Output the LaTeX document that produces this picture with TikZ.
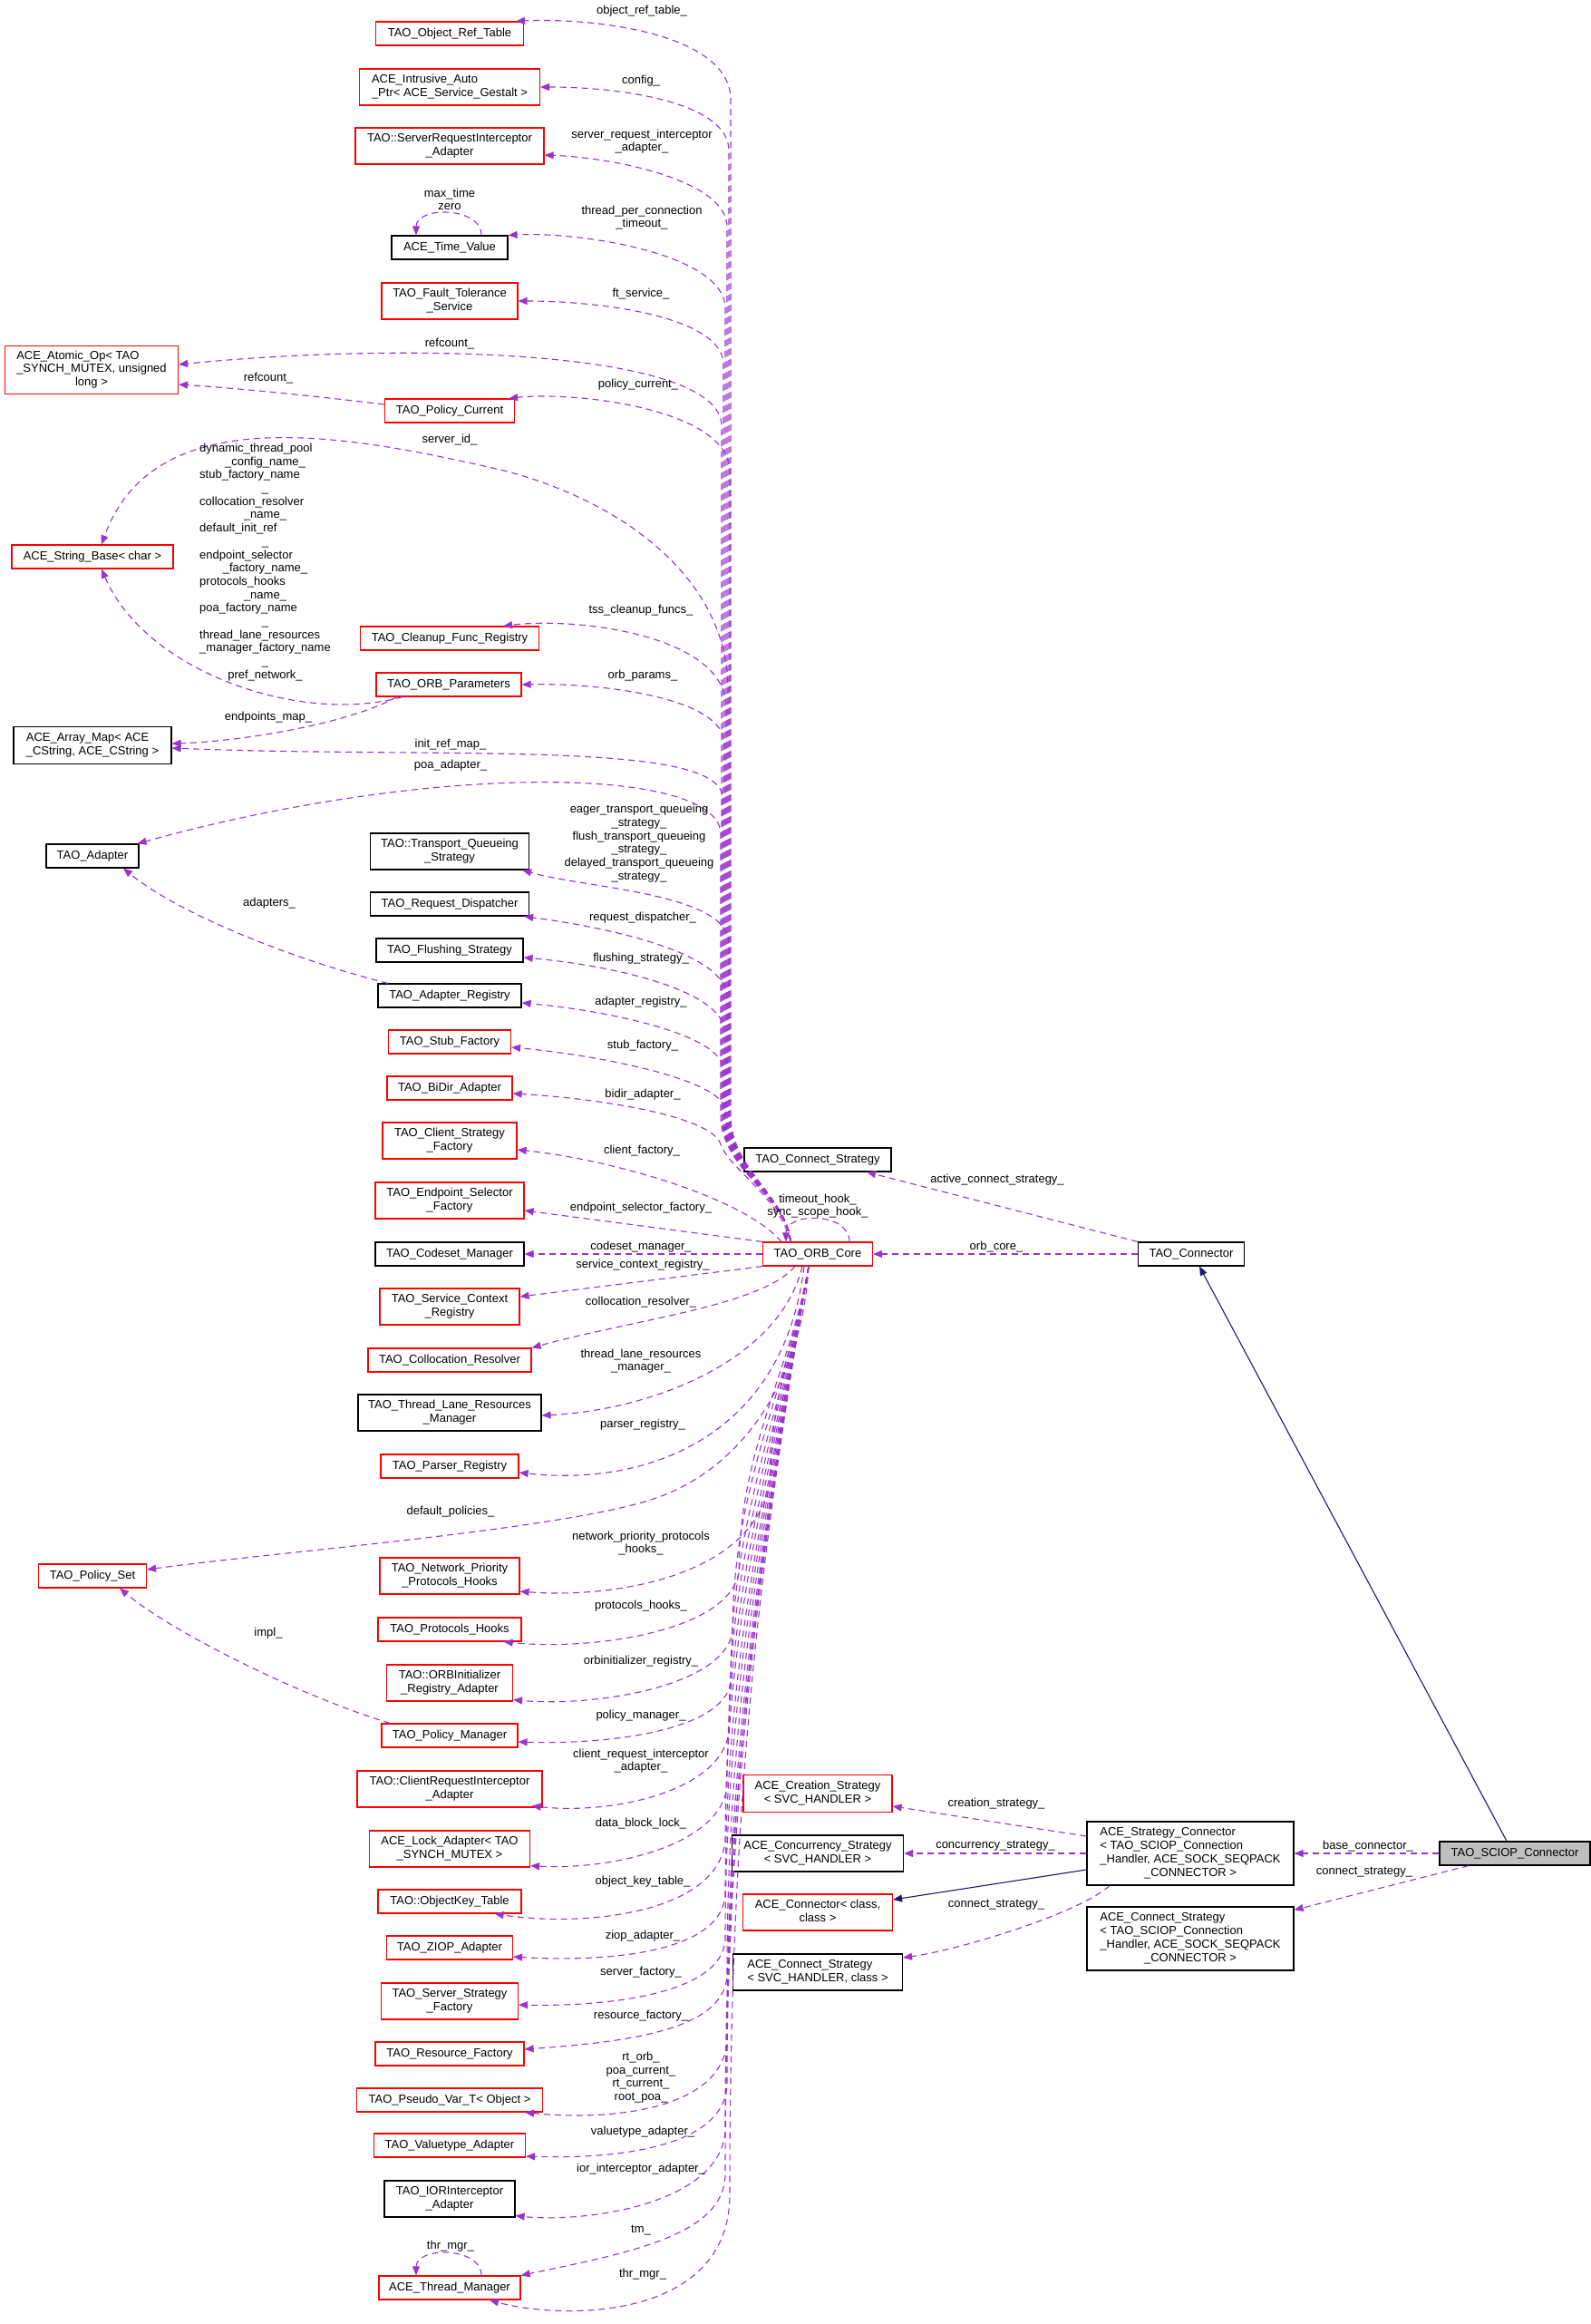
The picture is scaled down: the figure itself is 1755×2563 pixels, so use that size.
\documentclass[tikz,border=0pt]{standalone}
\usepackage{fontspec}
\setmainfont{Liberation Sans}
\usetikzlibrary{arrows.meta}
\definecolor{edgep}{HTML}{9A32CD}
\definecolor{navyc}{HTML}{191970}
\definecolor{grayfill}{HTML}{BFBFBF}
\newcommand\twol[2]{\begin{tabular}{@{}l@{}}#1\\\multicolumn{1}{@{}c@{}}{#2}\end{tabular}}
\newcommand\mcc[1]{\multicolumn{1}{@{}c@{}}{#1}}
\newcommand\nd[6]{\node[#1, minimum width=#4pt, minimum height=#5pt] (#2) at (#3) {#6};}
\newcommand\UpEdge[6]{\draw[dep] (coreT) .. controls (868,1320) and (#1,1290) .. (#1,1230) -- (#1,#2) .. controls (#1,#3) and +(#4,#5) .. (#6);}
\newcommand\LowEdge[7]{%
 \pgfmathsetmacro\leL{#2-1396}%
 \pgfmathsetmacro\leAx{892-0.056*\leL}%
 \pgfmathsetmacro\leAy{1396+0.33*\leL}%
 \pgfmathsetmacro\leBy{#2-0.4*\leL}%
 \draw[dep] (coreB) .. controls (\leAx,\leAy) and (#1,\leBy) .. (#1,#2) .. controls (#3,#4) and +(#5,#6) .. (#7);}
\begin{document}
\begin{tikzpicture}[x=1pt,y=-1pt,font=\fontsize{13}{14.7}\selectfont,
 cls/.style={draw, line width=1.2pt, inner sep=0pt, fill=white},
 rc/.style={cls, draw=red},
 bc/.style={cls, draw=black},
 gc/.style={cls, draw=black, fill=grayfill},
 dep/.style={draw=edgep, line width=1.1pt, dash pattern=on 7pt off 5pt, -{Triangle[length=10pt,width=8pt]}},
 inh/.style={draw=navyc, line width=1.1pt, -{Triangle[length=10pt,width=8pt]}},
 lab/.style={inner sep=0pt, align=center}]
\useasboundingbox[fill=white] (0,0) rectangle (1755,2563);

% ---- nodes ----
\nd{rc}{objref}{496,37}{163}{26}{TAO\_Object\_Ref\_Table}
\nd{rc}{autoptr}{496,96}{199}{40}{\twol{ACE\_Intrusive\_Auto}{\_Ptr< ACE\_Service\_Gestalt >}}
\nd{rc}{sri}{496,161}{208}{40}{\twol{TAO::ServerRequestInterceptor}{\_Adapter}}
\nd{bc}{timeval}{496,273}{128}{26}{ACE\_Time\_Value}
\nd{rc}{ft}{496,332}{150}{40}{\twol{TAO\_Fault\_Tolerance}{\_Service}}
\nd{rc}{atomic}{101,408}{191}{53}{\twol{ACE\_Atomic\_Op< TAO\\\_SYNCH\_MUTEX, unsigned}{long >}}
\nd{rc}{polcur}{496,453}{143}{26}{TAO\_Policy\_Current}
\nd{rc}{strbase}{102,614}{178}{26}{ACE\_String\_Base< char >}
\nd{rc}{cleanup}{496,704}{197}{26}{TAO\_Cleanup\_Func\_Registry}
\nd{rc}{orbparams}{495,755}{160}{26}{TAO\_ORB\_Parameters}
\nd{bc}{arraymap}{102,822}{174}{41}{\twol{ACE\_Array\_Map< ACE}{\_CString, ACE\_CString >}}
\nd{bc}{adapter}{102,944}{102}{26}{TAO\_Adapter}
\nd{bc}{tqs}{496,939}{175}{40}{\twol{TAO::Transport\_Queueing}{\_Strategy}}
\nd{bc}{reqdisp}{496,997}{175}{26}{TAO\_Request\_Dispatcher}
\nd{bc}{flush}{496,1048}{162}{26}{TAO\_Flushing\_Strategy}
\nd{bc}{adreg}{496,1098}{158}{26}{TAO\_Adapter\_Registry}
\nd{rc}{stub}{496,1149}{135}{26}{TAO\_Stub\_Factory}
\nd{rc}{bidir}{496,1200}{138}{26}{TAO\_BiDir\_Adapter}
\nd{rc}{csf}{496,1258}{148}{40}{\twol{TAO\_Client\_Strategy}{\_Factory}}
\nd{rc}{esf}{496,1324}{164}{40}{\twol{TAO\_Endpoint\_Selector}{\_Factory}}
\nd{bc}{codeset}{496,1383}{164}{26}{TAO\_Codeset\_Manager}
\nd{rc}{scr}{496,1441}{154}{40}{\twol{TAO\_Service\_Context}{\_Registry}}
\nd{rc}{colres}{496,1500}{180}{26}{TAO\_Collocation\_Resolver}
\nd{bc}{tlrm}{496,1558}{202}{40}{\twol{TAO\_Thread\_Lane\_Resources}{\_Manager}}
\nd{rc}{parser}{496,1617}{152}{26}{TAO\_Parser\_Registry}
\nd{rc}{polset}{102,1738}{119}{26}{TAO\_Policy\_Set}
\nd{rc}{nph}{496,1738}{154}{40}{\twol{TAO\_Network\_Priority}{\_Protocols\_Hooks}}
\nd{rc}{ph}{496,1797}{158}{26}{TAO\_Protocols\_Hooks}
\nd{rc}{orbinit}{496,1856}{139}{40}{\twol{TAO::ORBInitializer}{\_Registry\_Adapter}}
\nd{rc}{polmgr}{496,1914}{150}{26}{TAO\_Policy\_Manager}
\nd{rc}{cri}{496,1973}{204}{40}{\twol{TAO::ClientRequestInterceptor}{\_Adapter}}
\nd{rc}{lock}{496,2039}{177}{40}{\twol{ACE\_Lock\_Adapter< TAO}{\_SYNCH\_MUTEX >}}
\nd{rc}{okt}{496,2097}{158}{26}{TAO::ObjectKey\_Table}
\nd{rc}{ziop}{496,2148}{139}{26}{TAO\_ZIOP\_Adapter}
\nd{rc}{ssf}{496,2207}{151}{40}{\twol{TAO\_Server\_Strategy}{\_Factory}}
\nd{rc}{resf}{496,2265}{164}{26}{TAO\_Resource\_Factory}
\nd{rc}{pseudo}{496,2316}{205}{26}{TAO\_Pseudo\_Var\_T< Object >}
\nd{rc}{valuetype}{496,2366}{167}{26}{TAO\_Valuetype\_Adapter}
\nd{bc}{iori}{496,2425}{144}{40}{\twol{TAO\_IORInterceptor}{\_Adapter}}
\nd{rc}{thrmgr}{496,2523}{156}{26}{ACE\_Thread\_Manager}

\nd{rc}{core}{902,1383}{121}{26}{TAO\_ORB\_Core}
\nd{bc}{tcs}{902,1279}{162}{26}{TAO\_Connect\_Strategy}
\nd{bc}{tconn}{1314,1383}{117}{26}{TAO\_Connector}
\nd{rc}{acs}{902,1978}{164}{41}{\twol{ACE\_Creation\_Strategy}{< SVC\_HANDLER >}}
\nd{bc}{acc}{902,2044}{189}{40}{\twol{ACE\_Concurrency\_Strategy}{< SVC\_HANDLER >}}
\nd{rc}{acn}{902,2109}{165}{40}{\twol{ACE\_Connector< class,}{class >}}
\nd{bc}{acst}{902,2175}{187}{40}{\twol{ACE\_Connect\_Strategy}{< SVC\_HANDLER, class >}}
\nd{bc}{asc}{1313,2044}{228}{70}{\twol{ACE\_Strategy\_Connector\\< TAO\_SCIOP\_Connection\\\_Handler, ACE\_SOCK\_SEQPACK}{\_CONNECTOR >}}
\nd{bc}{acst2}{1313,2138}{228}{70}{\twol{ACE\_Connect\_Strategy\\< TAO\_SCIOP\_Connection\\\_Handler, ACE\_SOCK\_SEQPACK}{\_CONNECTOR >}}
\nd{gc}{sciop}{1671,2044}{166}{26}{TAO\_SCIOP\_Connector}

\coordinate (coreT) at ([xshift=-30pt]core.north);
\coordinate (coreB) at ([xshift=-10pt]core.south);

% ---- upper edges from ORB core ----
\UpEdge{806}{110}{35}{80}{-4}{[xshift=-9pt]objref.north east}
\UpEdge{804}{166}{113}{90}{0}{autoptr.east}
\UpEdge{802}{250}{200}{80}{3}{[yshift=-10pt]sri.east}
\UpEdge{800}{340}{280}{80}{-4}{timeval.north east}
\UpEdge{798}{402}{349}{90}{0}{ft.east}
\UpEdge{796}{470}{385}{250}{-25}{[yshift=6pt]atomic.east}
\UpEdge{805}{520}{450}{70}{-8}{[xshift=-7pt]polcur.north east}
\UpEdge{801}{780}{700}{80}{-10}{[xshift=-40pt]cleanup.north east}
\UpEdge{799}{820}{770}{90}{-2}{orbparams.east}
\UpEdge{797}{880}{815}{300}{12}{[yshift=-3pt]arraymap.east}
\UpEdge{795}{920}{845}{329}{-91}{[xshift=-2pt]adapter.north east}
\UpEdge{804}{1040}{985}{70}{20}{[xshift=-8pt]tqs.south east}
\UpEdge{802}{1100}{1050}{90}{12}{[xshift=-6pt]reqdisp.south east}
\UpEdge{800}{1140}{1090}{90}{8}{[yshift=-8pt]flush.east}
\UpEdge{798}{1180}{1140}{90}{8}{[yshift=-8pt]adreg.east}
\draw[dep] (coreT) .. controls (868,1320) and (803,1290) .. (803,1230) -- (803,760) .. controls (803,640) and (690,555) .. (560,520) .. controls (380,478) and (170,440) .. ([xshift=10pt]strbase.north);
\draw[dep] (coreT) .. controls (868,1320) and (800,1280) .. (800,1225) .. controls (800,1190) and +(90,8) .. ([yshift=-6pt]stub.east);
\draw[dep] (coreT) .. controls (860,1320) and (805,1290) .. (795,1262) .. controls (785,1230) and +(90,5) .. ([yshift=-6pt]bidir.east);
\draw[dep] ([xshift=-40pt]core.north) .. controls (820,1320) and +(100,10) .. ([yshift=-10pt]csf.east);
\draw[dep] (core.north west) -- ([yshift=-11pt]esf.east);
\draw[dep] (core.west) -- (codeset.east);
\draw[dep] (core.south west) -- ([yshift=11pt]scr.east);

% ---- lower edges from ORB core ----
\draw[dep] ([xshift=-25pt]core.south) .. controls (840,1440) and (700,1455) .. (colres.north east);
\draw[dep] ([xshift=-17pt]core.south) .. controls (860,1500) and (720,1555) .. ([yshift=-3pt]tlrm.east);
\draw[dep] ([xshift=-15pt]core.south) .. controls (865,1580) and (720,1640) .. ([yshift=-7pt]parser.east);
\draw[dep] (coreB) .. controls (885,1520) and (820,1620) .. (721,1653) .. controls (620,1687) and (300,1712) .. ([yshift=7pt]polset.east);
\LowEdge{850}{1630}{835}{1740}{100}{8}{[yshift=-17pt]nph.east}
\LowEdge{815}{1735}{802}{1800}{95}{10}{[xshift=-20pt]ph.south east}
\LowEdge{808}{1800}{798}{1860}{90}{8}{[yshift=2pt]orbinit.south east}
\LowEdge{806}{1855}{798}{1910}{95}{3}{[yshift=-7pt]polmgr.east}
\LowEdge{804}{1910}{796}{1975}{90}{10}{[xshift=-12pt,yshift=2pt]cri.south east}
\LowEdge{802}{1970}{795}{2035}{90}{5}{[yshift=2pt]lock.south east}
\LowEdge{800}{2030}{792}{2110}{100}{15}{[xshift=-30pt]okt.south east}
\LowEdge{800}{2090}{795}{2155}{100}{6}{[yshift=-10pt]ziop.east}
\LowEdge{800}{2140}{795}{2200}{95}{2}{[yshift=-4pt]ssf.east}
\LowEdge{802}{2180}{797}{2240}{110}{-8}{[yshift=5pt]resf.east}
\LowEdge{802}{2250}{798}{2325}{100}{10}{[xshift=-20pt]pseudo.south east}
\LowEdge{802}{2300}{798}{2370}{95}{3}{[yshift=-12pt]valuetype.east}
\LowEdge{800}{2350}{795}{2430}{80}{8}{[yshift=2pt]iori.south east}
\LowEdge{800}{2400}{797}{2465}{120}{-25}{thrmgr.north east}
\LowEdge{805}{2420}{805}{2560}{80}{22}{[xshift=44pt]thrmgr.south}

% ---- self loops ----
\draw[dep] ([xshift=35pt]core.north) .. controls +(0,-33) and +(0,-33) .. ([xshift=-35pt]core.north);
\draw[dep] ([xshift=35pt]timeval.north) .. controls +(0,-32) and +(0,-32) .. ([xshift=-37pt]timeval.north);
\draw[dep] ([xshift=35pt]thrmgr.north) .. controls +(0,-32) and +(0,-32) .. ([xshift=-37pt]thrmgr.north);

% ---- other edges ----
\draw[dep] ([yshift=7pt]polcur.west) .. controls (350,437) and (260,428) .. ([yshift=-16pt]atomic.east);
\draw[dep] ([xshift=-51pt]orbparams.south) .. controls (330,800) and (160,740) .. ([xshift=10pt]strbase.south);
\draw[dep] ([xshift=-57pt]orbparams.south) .. controls (380,800) and (260,818) .. ([yshift=2pt]arraymap.east);
\draw[dep] ([xshift=-68pt]adreg.north) .. controls (330,1060) and (200,1010) .. ([xshift=34pt]adapter.south);
\draw[dep] ([xshift=-66pt]polmgr.north) .. controls (330,1870) and (190,1800) .. ([xshift=30pt]polset.south);
\draw[dep] (tconn.west) -- (core.east);
\draw[dep] (tconn.north west) -- ([xshift=54pt]tcs.south);
\draw[inh] ([xshift=-9pt]sciop.north) -- ([xshift=9pt]tconn.south);
\draw[dep] (sciop.west) -- (asc.east);
\draw[dep] ([xshift=-51pt]sciop.south) -- ([yshift=-4pt]acst2.north east);
\draw[dep] ([yshift=19pt]asc.west) -- ([yshift=-14pt]acs.east);
\draw[dep] (asc.west) -- (acc.east);
\draw[inh] ([yshift=-18pt]asc.west) -- ([yshift=14pt]acn.east);
\draw[dep] ([xshift=-89pt]asc.south) .. controls (1190,2110) and (1060,2150) .. ([yshift=16pt]acst.east);

% ---- labels ----
\node[lab] (l01) at (708,12) {object\_ref\_table\_};
\node[lab] (l02) at (707,89) {config\_};
\node[lab] (l03) at (708,156) {server\_request\_interceptor\\\_adapter\_};
\node[lab] (l04) at (496,220) {max\_time\\zero};
\node[lab] (l05) at (708,240) {thread\_per\_connection\\\_timeout\_};
\node[lab] (l06) at (707,324) {ft\_service\_};
\node[lab] (l07) at (496,379) {refcount\_};
\node[lab] (l08) at (296,417) {refcount\_};
\node[lab] (l09) at (704,424) {policy\_current\_};
\node[lab] (l10) at (496,485) {server\_id\_};
\node[lab] (l11) at (292.5,620.5) {\begin{tabular}{@{}l@{}}
dynamic\_thread\_pool\\
\mcc{\_config\_name\_}\\
stub\_factory\_name\\
\mcc{\_}\\
collocation\_resolver\\
\mcc{\_name\_}\\
default\_init\_ref\\
\mcc{\_}\\
endpoint\_selector\\
\mcc{\_factory\_name\_}\\
protocols\_hooks\\
\mcc{\_name\_}\\
poa\_factory\_name\\
\mcc{\_}\\
thread\_lane\_resources\\
\_manager\_factory\_name\\
\mcc{\_}\\
\mcc{pref\_network\_}
\end{tabular}};
\node[lab] (l12) at (707,673) {tss\_cleanup\_funcs\_};
\node[lab] (l13) at (709,745) {orb\_params\_};
\node[lab] (l14) at (296,791) {endpoints\_map\_};
\node[lab] (l15) at (497,821) {init\_ref\_map\_};
\node[lab] (l16) at (497,844) {poa\_adapter\_};
\node[lab] (l17) at (705,930) {eager\_transport\_queueing\\\_strategy\_\\flush\_transport\_queueing\\\_strategy\_\\delayed\_transport\_queueing\\\_strategy\_};
\node[lab] (l18) at (709,1012) {request\_dispatcher\_};
\node[lab] (l19) at (297,996) {adapters\_};
\node[lab] (l20) at (707,1057) {flushing\_strategy\_};
\node[lab] (l21) at (707,1105) {adapter\_registry\_};
\node[lab] (l22) at (709,1153) {stub\_factory\_};
\node[lab] (l23) at (709,1207) {bidir\_adapter\_};
\node[lab] (l24) at (708,1269) {client\_factory\_};
\node[lab] (l25) at (1100,1301) {active\_connect\_strategy\_};
\node[lab] (l26) at (902,1330) {timeout\_hook\_\\sync\_scope\_hook\_};
\node[lab] (l27) at (707,1332) {endpoint\_selector\_factory\_};
\node[lab] (l28) at (707,1375) {codeset\_manager\_};
\node[lab] (l29) at (1099,1375) {orb\_core\_};
\node[lab] (l30) at (709,1395) {service\_context\_registry\_};
\node[lab] (l31) at (707,1436) {collocation\_resolver\_};
\node[lab] (l32) at (707,1501) {thread\_lane\_resources\\\_manager\_};
\node[lab] (l33) at (709,1571) {parser\_registry\_};
\node[lab] (l34) at (497,1667) {default\_policies\_};
\node[lab] (l35) at (707,1702) {network\_priority\_protocols\\\_hooks\_};
\node[lab] (l36) at (707,1771) {protocols\_hooks\_};
\node[lab] (l37) at (296,1801) {impl\_};
\node[lab] (l38) at (707,1832) {orbinitializer\_registry\_};
\node[lab] (l39) at (707,1892) {policy\_manager\_};
\node[lab] (l40) at (707,1942) {client\_request\_interceptor\\\_adapter\_};
\node[lab] (l41) at (1099,1989) {creation\_strategy\_};
\node[lab] (l42) at (707,2011) {data\_block\_lock\_};
\node[lab] (l43) at (1098,2036) {concurrency\_strategy\_};
\node[lab] (l44) at (1509,2036) {base\_connector\_};
\node[lab] (l45) at (1505,2065) {connect\_strategy\_};
\node[lab] (l46) at (709,2075) {object\_key\_table\_};
\node[lab] (l47) at (1099,2101) {connect\_strategy\_};
\node[lab] (l48) at (709,2135) {ziop\_adapter\_};
\node[lab] (l49) at (707,2175) {server\_factory\_};
\node[lab] (l50) at (707,2223) {resource\_factory\_};
\node[lab] (l51) at (707,2291) {rt\_orb\_\\poa\_current\_\\rt\_current\_\\root\_poa\_};
\node[lab] (l52) at (709,2351) {valuetype\_adapter\_};
\node[lab] (l53) at (707,2392) {ior\_interceptor\_adapter\_};
\node[lab] (l54) at (707,2460) {tm\_};
\node[lab] (l55) at (497,2477) {thr\_mgr\_};
\node[lab] (l56) at (709,2508) {thr\_mgr\_};
\end{tikzpicture}
\end{document}
